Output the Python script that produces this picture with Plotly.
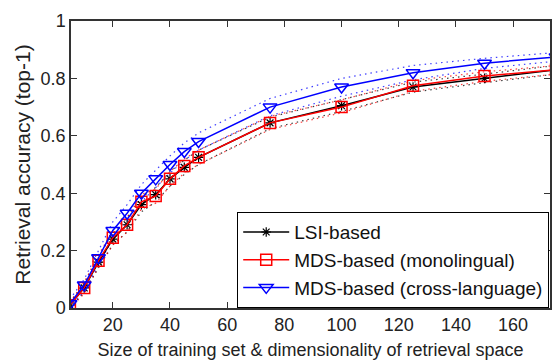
import plotly.graph_objects as go

x = [5, 10, 15, 20, 25, 30, 35, 40, 45, 50, 75, 100, 125, 150, 175]

lsi = [0.01, 0.07, 0.16, 0.24, 0.29, 0.36, 0.395, 0.45, 0.49, 0.525, 0.645, 0.705, 0.77, 0.80, 0.83]
lsi_hi = [0.02, 0.085, 0.18, 0.26, 0.315, 0.385, 0.42, 0.475, 0.515, 0.55, 0.665, 0.725, 0.787, 0.815, 0.845]
lsi_lo = [0.0, 0.055, 0.14, 0.22, 0.265, 0.335, 0.37, 0.425, 0.465, 0.50, 0.625, 0.685, 0.752, 0.785, 0.815]

mono = [0.01, 0.07, 0.165, 0.245, 0.29, 0.37, 0.39, 0.45, 0.495, 0.525, 0.645, 0.70, 0.774, 0.808, 0.83]
mono_hi = [0.02, 0.09, 0.185, 0.27, 0.315, 0.395, 0.415, 0.475, 0.52, 0.55, 0.668, 0.725, 0.792, 0.823, 0.845]
mono_lo = [0.0, 0.05, 0.145, 0.22, 0.265, 0.345, 0.365, 0.425, 0.47, 0.50, 0.622, 0.68, 0.755, 0.79, 0.815]

cross = [0.015, 0.08, 0.175, 0.27, 0.33, 0.40, 0.45, 0.50, 0.545, 0.58, 0.70, 0.77, 0.82, 0.853, 0.875]
cross_hi = [0.03, 0.10, 0.20, 0.30, 0.36, 0.43, 0.48, 0.53, 0.575, 0.61, 0.73, 0.80, 0.845, 0.87, 0.89]
cross_lo = [0.0, 0.06, 0.15, 0.24, 0.30, 0.37, 0.42, 0.47, 0.515, 0.55, 0.67, 0.738, 0.795, 0.835, 0.86]

names = ["LSI-based", "MDS-based (monolingual)", "MDS-based (cross-language)"]
colors = ["#000000", "#ff0000", "#0000ff"]
symbols = ["asterisk-open", "square-open", "triangle-down-open"]
sizes = [8, 11, 12]
mwidths = [1.2, 1.5, 1.5]
means = [lsi, mono, cross]
his = [lsi_hi, mono_hi, cross_hi]
los = [lsi_lo, mono_lo, cross_lo]

fig = go.Figure()
for name, c, s, sz, m, hi, lo in zip(names, colors, symbols, sizes, means, his, los):
    for b in (hi, lo):
        fig.add_trace(go.Scatter(x=x, y=b, mode="lines", showlegend=False, opacity=0.75,
                                 line=dict(color=c, width=1.2, dash="1.5px,4px")))
for name, c, s, sz, mw, m in zip(names, colors, symbols, sizes, mwidths, means):
    fig.add_trace(go.Scatter(x=x, y=m, mode="lines+markers", name=name,
                             line=dict(color=c, width=1.5),
                             marker=dict(symbol=s, size=sz, color=c,
                                         line=dict(color=c, width=mw))))

font = dict(family="Liberation Sans, Arial, sans-serif", size=18, color="#222222")
fig.update_layout(
    width=552, height=363,
    margin=dict(l=71, r=0, t=21, b=55),
    paper_bgcolor="white", plot_bgcolor="white",
    font=font,
    legend=dict(x=0.347, y=0.334, xanchor="left", yanchor="top",
                bgcolor="white", bordercolor="black", borderwidth=1,
                font=dict(family="Liberation Sans, Arial, sans-serif", size=19, color="#111111"),
                tracegroupgap=0, itemwidth=46),
    xaxis=dict(range=[5.38, 172.9], tickvals=[20, 40, 60, 80, 100, 120, 140, 160],
               ticks="inside", ticklen=6, tickcolor="#333", showline=True,
               linecolor="#333", linewidth=1.5, mirror="ticks", showgrid=False,
               zeroline=False, title=dict(text="Size of training set & dimensionality of retrieval space",
                                          standoff=9, font=dict(size=18))),
    yaxis=dict(range=[0, 1], tickvals=[0, 0.2, 0.4, 0.6, 0.8, 1],
               ticktext=["0", "0.2", "0.4", "0.6", "0.8", "1"],
               ticks="inside", ticklen=6, tickcolor="#333", showline=True,
               linecolor="#333", linewidth=1.5, mirror="ticks", showgrid=False,
               zeroline=False, title=dict(text="Retrieval accuracy (top-1)",
                                          standoff=4, font=dict(size=21))),
)
fig.write_html("out.html")
